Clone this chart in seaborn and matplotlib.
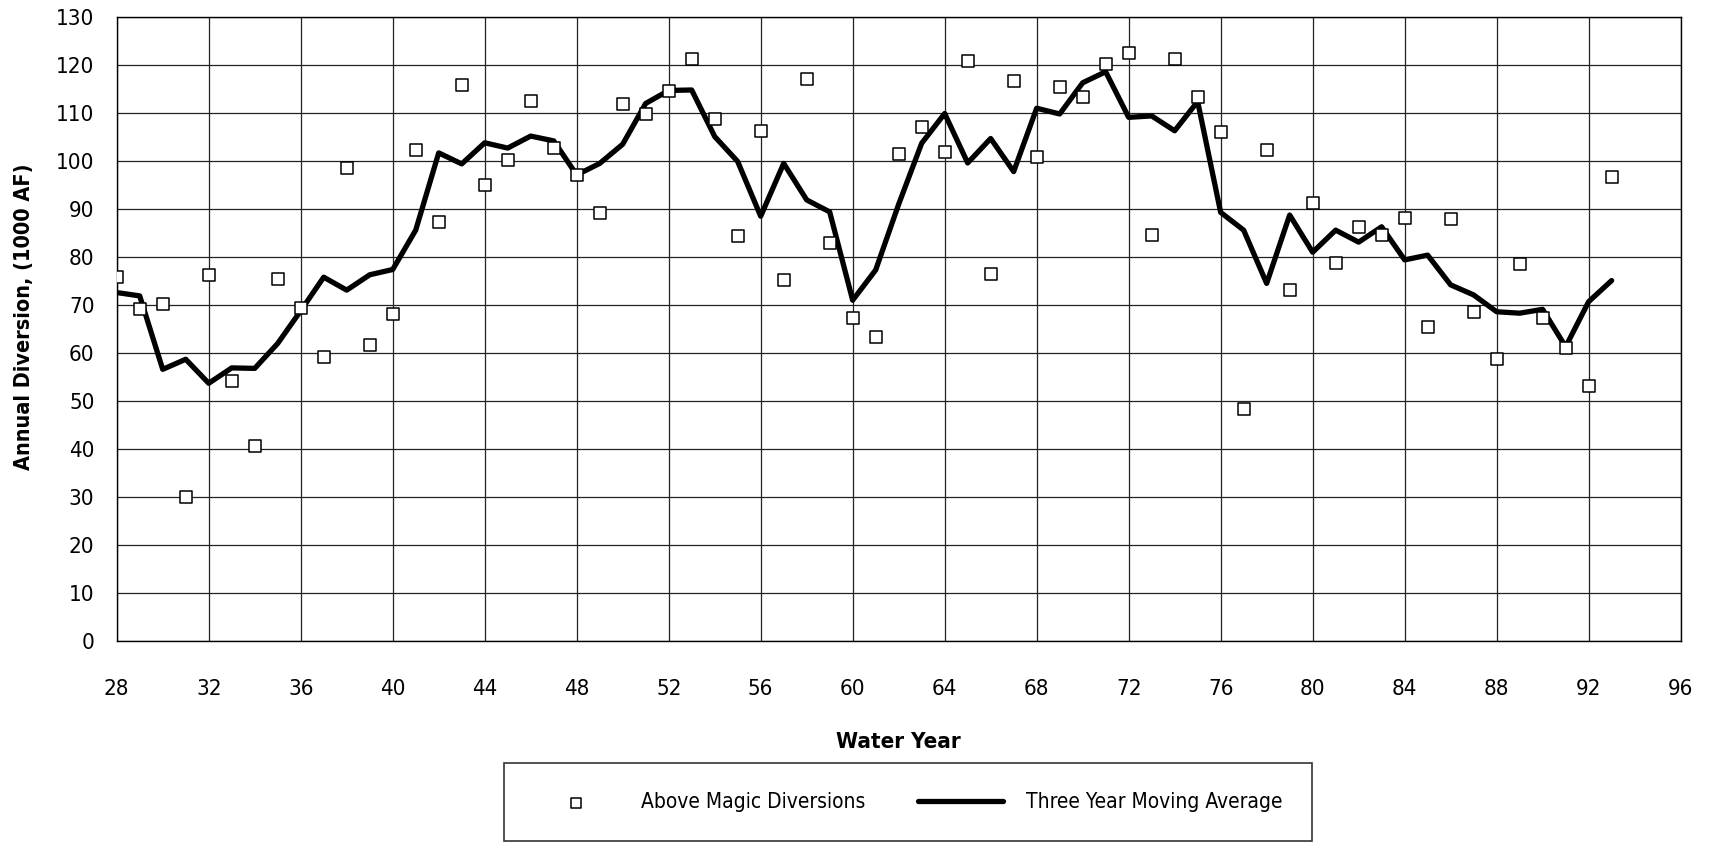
import matplotlib
matplotlib.use('Agg')
import matplotlib.pyplot as plt
import pandas as pd
import seaborn as sns

# water years 1928-1993 (shown as 2-digit)
years = list(range(28, 94))

# annual diversions above Magic, 1000 AF
diversions = [75.9, 69.1, 70.2, 30.0, 76.3, 54.2, 40.7, 75.4, 69.3, 59.1,
              98.6, 61.7, 68.1, 102.4, 87.2, 115.9, 95.1, 100.2, 112.5, 102.8,
              97.1, 89.1, 111.9, 109.8, 114.6, 121.2, 108.7, 84.4, 106.3, 75.3,
              117.1, 83.0, 67.4, 63.4, 101.4, 107.0, 101.9, 120.9, 76.5, 116.7,
              100.9, 115.5, 113.4, 120.2, 122.6, 84.5, 121.2, 113.3, 106.0, 48.3,
              102.3, 73.1, 91.2, 78.7, 86.2, 84.6, 88.1, 65.5, 87.9, 68.6,
              58.7, 78.5, 67.4, 61.0, 53.1, 96.7]

# three year moving average
moving_avg = [72.6, 71.9, 56.6, 58.7, 53.7, 56.9, 56.8, 62.0, 68.8, 75.8,
              73.1, 76.3, 77.4, 85.6, 101.7, 99.4, 103.8, 102.7, 105.2, 104.2,
              97.1, 99.5, 103.5, 112.0, 114.7, 114.8, 105.1, 99.9, 88.5, 99.5,
              91.9, 89.4, 71.0, 77.3, 91.0, 103.7, 109.9, 99.6, 104.7, 97.8,
              111.0, 109.8, 116.3, 118.6, 109.1, 109.4, 106.3, 112.4, 89.3, 85.6,
              74.5, 88.75, 81.0, 85.6, 83.1, 86.3, 79.4, 80.4, 74.2, 72.1,
              68.6, 68.3, 69.1, 61.3, 70.7, 75.1]

x_ticks = list(range(28, 97, 4))
y_ticks = list(range(0, 131, 10))

df = pd.DataFrame({'year': years, 'div': diversions, 'avg': moving_avg})

sns.set_style('white')
plt.rcParams['font.family'] = ['DejaVu Sans']
plt.rcParams['font.stretch'] = 'condensed'
for k in ['text.color', 'axes.labelcolor', 'xtick.color', 'ytick.color']:
    plt.rcParams[k] = 'black'

fig, ax = plt.subplots(figsize=(17.09, 8.43), dpi=100)
fig.subplots_adjust(left=0.0683, right=0.9834, top=0.9798, bottom=0.2396)

sns.lineplot(data=df, x='year', y='avg', ax=ax, color='black', linewidth=3.8,
             label='Three Year Moving Average', zorder=3)
sns.scatterplot(data=df, x='year', y='div', ax=ax, marker='s', s=85,
                facecolor='white', edgecolor='black', linewidth=1.1,
                label='Above Magic Diversions', zorder=4)

ax.set_xlim(28, 96)
ax.set_ylim(0, 130)
ax.set_xticks(x_ticks)
ax.set_yticks(y_ticks)
ax.grid(True, color='#222222', linewidth=0.9)
ax.set_axisbelow(True)
for sp in ax.spines.values():
    sp.set_visible(True)
    sp.set_color('black')
    sp.set_linewidth(1.0)

ax.tick_params(axis='x', direction='out', length=6, width=0.9, pad=21, labelsize=16)
ax.tick_params(axis='y', direction='out', length=6, width=0.9, pad=10, labelsize=16)

ax.set_xlabel('Water Year', fontsize=16, fontweight='bold')
ax.set_ylabel('Annual Diversion, (1000 AF)', fontsize=15.5, fontweight='bold')
ax.xaxis.set_label_coords(0.5, -0.146)
ax.yaxis.set_label_coords(-0.053, 0.52)

ax.get_legend().remove()
h, l = ax.get_legend_handles_labels()
# scatter first, then line
leg = fig.legend([h[1], h[0]], [l[1], l[0]], ncol=2, loc='upper left',
                 bbox_to_anchor=(0.2947, 0.0949), borderaxespad=0,
                 fontsize=15, frameon=True, fancybox=False,
                 handlelength=4.1, handletextpad=1.1, columnspacing=2.5,
                 borderpad=1.4, markerscale=0.8)
leg.get_frame().set_edgecolor('black')
leg.get_frame().set_linewidth(1.2)

plt.savefig('out.png', dpi=100)
